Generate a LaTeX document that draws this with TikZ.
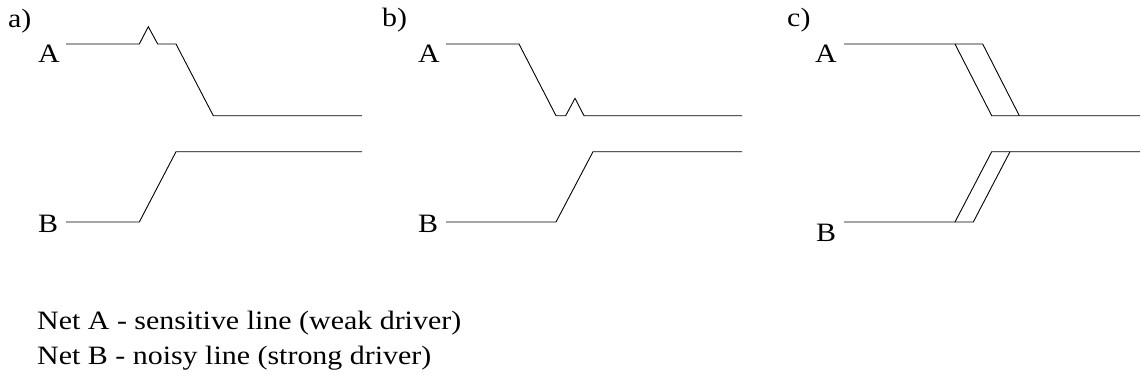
\documentclass[tikz,border=0pt]{standalone}
\usepackage{fontspec}
\setmainfont{Liberation Serif}[FakeStretch=1.13]
\begin{document}
\begin{tikzpicture}[x=1pt,y=-1pt,
  wave/.style={line width=0.9pt,line join=miter},
  lbl/.style={anchor=base west,inner sep=0pt,font=\fontsize{26.5}{30}\selectfont}]
\useasboundingbox (0,0) rectangle (1141,381);
% panel labels
\node[lbl] (la) at (8,27) {a)};
\node[lbl] (lb) at (382,26) {b)};
\node[lbl] (lc) at (787,26) {c)};
% signal labels
\node[lbl] (aA) at (38,62) {A};
\node[lbl] (aB) at (38,232) {B};
\node[lbl] (bA) at (418,62) {A};
\node[lbl] (bB) at (418,232) {B};
\node[lbl] (cA) at (815,62) {A};
\node[lbl] (cB) at (816,241.5) {B};
% legend
\node[lbl] (n1) at (37,329) {Net A - sensitive line (weak driver)};
\node[lbl] (n2) at (37,364) {Net B - noisy line (strong driver)};
% panel a
\draw[wave] (66,44) -- (139.3,44) -- (148.3,26.7) -- (157.7,44) -- (176,44) -- (213.3,115.7) -- (362,115.7);
\draw[wave] (66,222) -- (139.3,222) -- (176,151.7) -- (362,151.7);
% panel b
\draw[wave] (446,44) -- (519,44) -- (556,115.7) -- (565.7,115.7) -- (575,98.3) -- (584,115.7) -- (742,115.7);
\draw[wave] (446,222) -- (556,222) -- (593,151.7) -- (742,151.7);
% panel c
\draw[wave] (844,44) -- (982.7,44) -- (1019.3,115.7);
\draw[wave] (955,44) -- (991.7,115.7) -- (1140,115.7);
\draw[wave] (844,222) -- (973.3,222) -- (1010,151.7);
\draw[wave] (955,222) -- (991.7,151.7) -- (1140,151.7);
\end{tikzpicture}
\end{document}
